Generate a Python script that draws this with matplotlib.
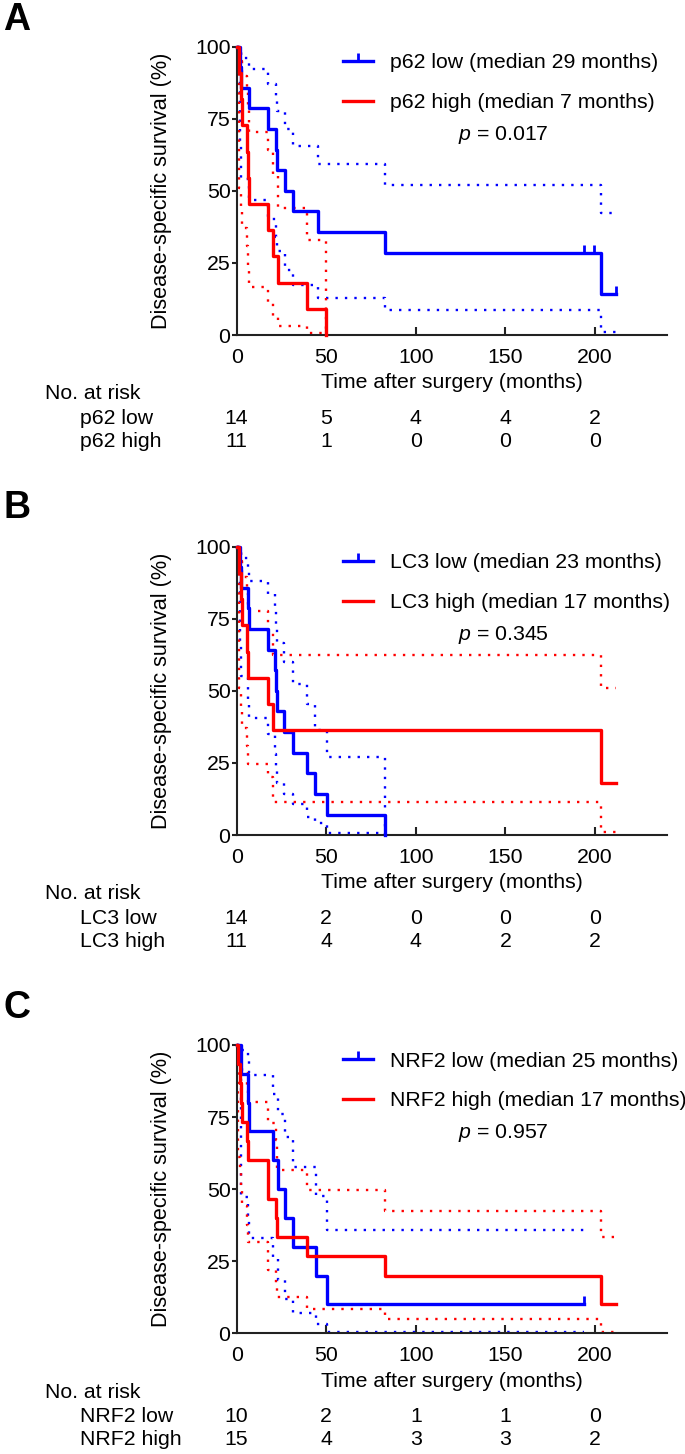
import matplotlib
matplotlib.use('Agg')
import matplotlib.pyplot as plt
import matplotlib.transforms as mtransforms
from matplotlib.lines import Line2D
import numpy as np

plt.rcParams['font.family'] = ['Liberation Sans', 'DejaVu Sans']
plt.rcParams['mathtext.fontset'] = 'custom'
plt.rcParams['mathtext.it'] = 'Liberation Sans:italic'
plt.rcParams['mathtext.rm'] = 'Liberation Sans'

BLUE = '#0000ff'
RED = '#ff0000'
FS = 15.3

# --- Panel A: p62 ---
a_low_t = [0, 1.8, 2.4, 6.9, 17.6, 21.8, 22.3, 26.9, 31.5, 45.5, 83, 203.5, 212]
a_low_s = [100, 92.9, 85.7, 78.6, 71.4, 64.3, 57.1, 50, 42.9, 35.7, 28.6, 14.3, 14.3]
a_low_up = [100, 99, 96, 92.3, 87.1, 82, 77.6, 71.5, 65.7, 59.2, 52.1, 42.4, 42.4]
a_low_lo = [100, 66, 54, 46.7, 40.4, 34, 29, 22.5, 17.3, 12.7, 8.6, 1, 1]
a_low_cens = [193.9, 199.4, 212]
a_high_t = [0, 1.3, 2.6, 2.8, 5.8, 6.2, 6.8, 17.6, 20.4, 22.8, 39, 50.1]
a_high_s = [100, 90.9, 81.8, 72.7, 63.6, 54.5, 45.5, 36.4, 27.3, 18.2, 9.1, 0]
a_high_up = [100, 99, 95, 90, 85, 78, 70.5, 64.2, 56, 43.9, 33, 0]
a_high_lo = [100, 51, 44, 37, 31, 24, 16.5, 11, 6.3, 3, 0.6, 0]
a_high_cens = []
a_risk_low = [14, 5, 4, 4, 2]
a_risk_high = [11, 1, 0, 0, 0]

# --- Panel B: LC3 ---
b_low_t = [0, 1.8, 2.4, 6.5, 6.9, 17.6, 21.5, 22.0, 22.5, 26.5, 31.5, 39, 44, 50.5, 83]
b_low_s = [100, 92.9, 85.7, 78.6, 71.4, 64.3, 57.1, 50, 42.9, 35.7, 28.6, 21.4, 14.3, 7.1, 0]
b_low_up = [100, 99, 96, 92, 88.1, 83.5, 78, 72, 66.5, 60, 52.5, 45.5, 36.3, 27, 0]
b_low_lo = [100, 66, 55, 47, 40.6, 35, 28, 23, 18, 14.4, 10.9, 6.3, 4, 0.8, 0]
b_low_cens = []
b_high_t = [0, 1.3, 2.6, 2.8, 5.8, 6.5, 17.6, 20.4, 203.5, 212]
b_high_s = [100, 90.9, 81.8, 72.7, 63.6, 54.5, 45.5, 36.4, 18.2, 18.2]
b_high_up = [100, 99, 95, 89.6, 84, 77.8, 70, 62.4, 51, 51]
b_high_lo = [100, 51, 44, 37, 31, 24.8, 20, 11.5, 1.2, 1.2]
b_high_cens = []
b_risk_low = [14, 2, 0, 0, 0]
b_risk_high = [11, 4, 4, 2, 2]

# --- Panel C: NRF2 ---
c_low_t = [0, 2.4, 6.5, 6.9, 20.2, 22.8, 26.9, 31.5, 44.5, 50.5, 194]
c_low_s = [100, 90, 80, 70, 60, 50, 40, 30, 20, 10, 10]
c_low_up = [100, 98.3, 94.5, 89.6, 83, 76, 68.2, 57.8, 47.5, 35.7, 35.7]
c_low_lo = [100, 47.4, 40, 32.9, 26.5, 18.5, 12, 7, 3.2, 0.4, 0.4]
c_low_cens = [194]
c_high_t = [0, 0.9, 2.0, 2.4, 2.8, 5.6, 6.5, 17.3, 17.6, 21.7, 22.6, 39, 83, 203.5, 212]
c_high_s = [100, 93.3, 86.7, 80, 73.3, 66.7, 60, 53.3, 46.7, 40, 33.3, 26.7, 20, 10, 10]
c_high_up = [100, 99, 96, 93.5, 90.2, 86, 80.3, 76.2, 72.8, 67, 56.5, 49.6, 42.4, 33.4, 33.4]
c_high_lo = [100, 61.3, 56.6, 50, 44, 37.5, 31.6, 25.3, 21.8, 17.1, 12.5, 8.5, 5, 0.4, 0.4]
c_high_cens = []
c_risk_low = [10, 2, 1, 1, 0]
c_risk_high = [15, 4, 3, 3, 2]

risk_times = [0, 50, 100, 150, 200]


def step_value(t, s, x):
    i = np.searchsorted(t, x, side='right') - 1
    return np.asarray(s)[i]


def draw_group(ax, t, s, up, lo, cens, color):
    ax.step(t, up, where='post', color=color, lw=1.7, ls=(0, (1, 3)), clip_on=False)
    ax.step(t, lo, where='post', color=color, lw=1.7, ls=(0, (1, 3)), clip_on=False)
    ax.step(t, s, where='post', color=color, lw=2.4, clip_on=False, zorder=3)
    if len(cens):
        ax.plot(cens, step_value(t, s, cens), ls='none', marker=2, ms=5.5,
                mew=2, color=color, clip_on=False, zorder=3)


def draw_panel(rect, letter, letter_y, name, low, high, med_low, med_high, pval,
               risk_low, risk_high):
    ax = fig.add_axes(rect)
    draw_group(ax, *low, BLUE)
    draw_group(ax, *high, RED)

    ax.set_xlim(0, 240)
    ax.set_ylim(0, 100)
    ax.set_xticks([0, 50, 100, 150, 200])
    ax.set_yticks([0, 25, 50, 75, 100])
    for sp in ['top', 'right']:
        ax.spines[sp].set_visible(False)
    for sp in ['left', 'bottom']:
        ax.spines[sp].set_linewidth(1.5)
        ax.spines[sp].set_color('#222222')
    ax.tick_params(axis='x', direction='in', length=6, width=1.5, pad=9,
                   labelsize=FS, color='#222222')
    ax.tick_params(axis='y', direction='out', length=3.5, width=1.5, pad=1,
                   labelsize=FS, color='#222222')
    ax.xaxis.get_major_ticks()[0].tick1line.set_visible(False)

    ax.set_xlabel('Time after surgery (months)', fontsize=FS)
    ax.xaxis.set_label_coords(0.5, -0.166)
    ax.xaxis.label.set_va('center')
    ax.set_ylabel('Disease-specific survival (%)', fontsize=FS + 0.3)
    ax.yaxis.set_label_coords(-0.174, 0.5)
    ax.yaxis.label.set_va('center')

    handles = [Line2D([], [], color=BLUE, lw=2.4, marker=2, ms=5.5, mew=2),
               Line2D([], [], color=RED, lw=2.4)]
    labels = [f'{name} low (median {med_low} months)',
              f'{name} high (median {med_high} months)']
    ax.legend(handles, labels, loc='upper left', bbox_to_anchor=(0.248, 0.977),
              frameon=False, fontsize=FS, borderaxespad=0, borderpad=0,
              handlelength=1.42, handletextpad=0.8, labelspacing=0.98)
    ax.text(0.62, 0.694, r'$p$ = ' + pval, transform=ax.transAxes,
            ha='center', va='center', fontsize=FS)

    # number at risk table
    ax.text(-0.446, -0.204, 'No. at risk', transform=ax.transAxes,
            ha='left', va='center', fontsize=FS)
    trans = mtransforms.blended_transform_factory(ax.transData, ax.transAxes)
    for yrow, lab, vals in [(-0.289, f'{name} low', risk_low),
                            (-0.370, f'{name} high', risk_high)]:
        ax.text(-0.364, yrow, lab, transform=ax.transAxes,
                ha='left', va='center', fontsize=FS)
        for tx, n in zip(risk_times, vals):
            ax.text(tx, yrow, str(n), transform=trans, ha='center',
                    va='center', fontsize=FS)

    fig.text(17 / 685, 1 - letter_y / 1454, letter, fontsize=27,
             fontweight='bold', ha='center', va='center')
    return ax


fig = plt.figure(figsize=(6.85, 14.54), dpi=100)

draw_panel([0.3455, 0.7696, 0.6277, 0.1983], 'A', 19.5, 'p62',
           (a_low_t, a_low_s, a_low_up, a_low_lo, a_low_cens),
           (a_high_t, a_high_s, a_high_up, a_high_lo, a_high_cens),
           29, 7, '0.017', a_risk_low, a_risk_high)
draw_panel([0.3455, 0.4257, 0.6277, 0.1983], 'B', 508, 'LC3',
           (b_low_t, b_low_s, b_low_up, b_low_lo, b_low_cens),
           (b_high_t, b_high_s, b_high_up, b_high_lo, b_high_cens),
           23, 17, '0.345', b_risk_low, b_risk_high)
draw_panel([0.3455, 0.0830, 0.6277, 0.1983], 'C', 1008, 'NRF2',
           (c_low_t, c_low_s, c_low_up, c_low_lo, c_low_cens),
           (c_high_t, c_high_s, c_high_up, c_high_lo, c_high_cens),
           25, 17, '0.957', c_risk_low, c_risk_high)

fig.savefig('out.png', dpi=100)
